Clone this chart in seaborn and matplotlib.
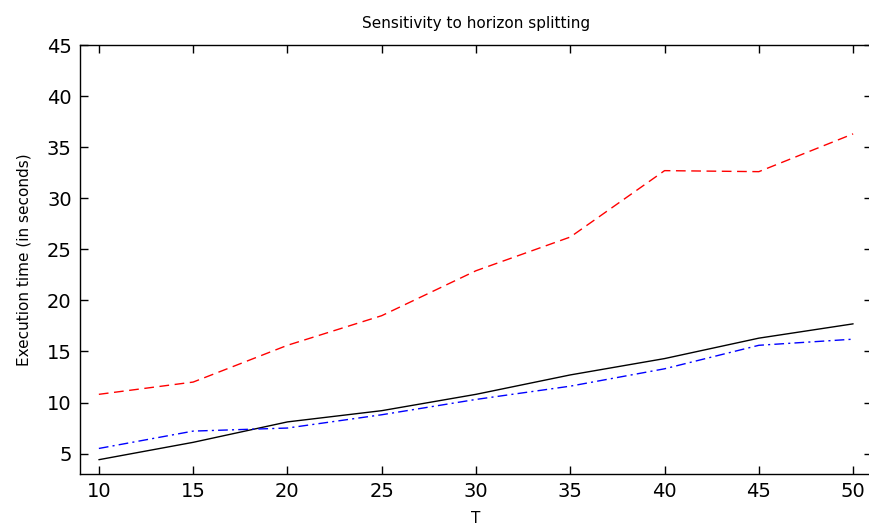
import matplotlib
matplotlib.use("Agg")
import matplotlib.pyplot as plt
import seaborn as sns
import pandas as pd

T = [10, 15, 20, 25, 30, 35, 40, 45, 50]
black_solid = [4.4, 6.1, 8.1, 9.2, 10.8, 12.7, 14.3, 16.3, 17.7]
blue_dashdot = [5.5, 7.2, 7.5, 8.8, 10.3, 11.6, 13.3, 15.6, 16.2]
red_dashed = [10.8, 12.0, 15.6, 18.5, 22.9, 26.2, 32.7, 32.6, 36.3]
xticks = [10, 15, 20, 25, 30, 35, 40, 45, 50]
yticks = [5, 10, 15, 20, 25, 30, 35, 40, 45]

sns.set_theme(style="white")
plt.rcParams['font.family'] = ['DejaVu Sans']
plt.rcParams['text.color'] = 'black'
plt.rcParams['axes.labelcolor'] = 'black'

fig = plt.figure(figsize=(8.69, 5.26), dpi=100)
W, H = 869, 526
ax = fig.add_axes([80 / W, 1 - 474 / H, (872 - 80) / W, (474 - 45) / H])

sns.lineplot(x=T, y=red_dashed, ax=ax, color="red", linewidth=1.0)
ax.lines[-1].set_dashes([7, 4])
sns.lineplot(x=T, y=black_solid, ax=ax, color="black", linewidth=1.0)
sns.lineplot(x=T, y=blue_dashdot, ax=ax, color="blue", linewidth=1.0)
ax.lines[-1].set_dashes([7, 3, 1.5, 3])

ax.set_xlim(9, 51)
ax.set_ylim(3, 45)
ax.set_xticks(xticks)
ax.set_yticks(yticks)
ax.tick_params(direction="in", length=6, width=1, top=True, right=True,
               bottom=True, left=True, labelsize=14, colors="black", pad=6)
for s in ax.spines.values():
    s.set_visible(True)
    s.set_color("black")
    s.set_linewidth(1.0)
ax.set_title("Sensitivity to horizon splitting", fontsize=11, pad=12, color="black")
ax.set_xlabel("T", fontsize=11, labelpad=7, color="black")
ax.set_ylabel("Execution time (in seconds)", fontsize=11, labelpad=11, color="black")

fig.savefig("out.png", dpi=100)
